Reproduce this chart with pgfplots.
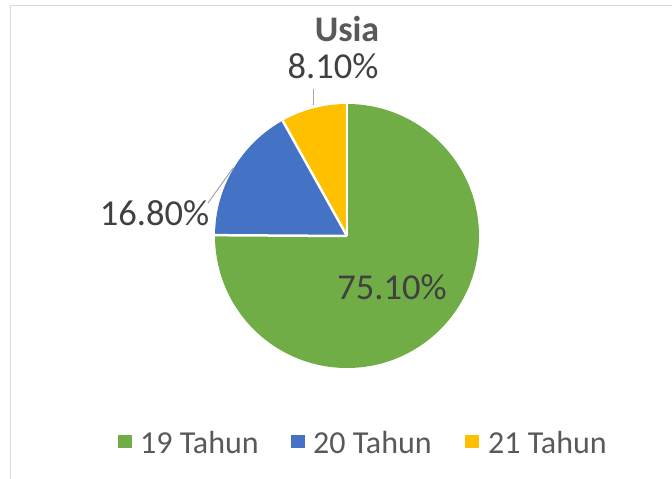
\documentclass[border=0pt]{standalone}
\usepackage{pgfplots}
\pgfplotsset{compat=1.18}
\usepackage{fontspec}
\setmainfont{Carlito}
\definecolor{cgreen}{HTML}{70AD47}
\definecolor{cblue}{HTML}{4472C4}
\definecolor{cyellow}{HTML}{FFC000}
\definecolor{ctext}{HTML}{595959}
\definecolor{clab}{HTML}{404040}
\definecolor{cframe}{HTML}{D9D9D9}
\definecolor{cleader}{HTML}{A6A6A6}
\begin{document}
\begin{tikzpicture}
\begin{axis}[scale only axis, width=672bp, height=479bp, at={(0,0)}, anchor=south west,
  xmin=0, xmax=672, ymin=0, ymax=479, hide axis, clip=false]
% frame
\draw[cframe, line width=1bp] (axis cs:10,0) -- (axis cs:10,473) -- (axis cs:672,473);
% pie: 19 Tahun 75.1, 20 Tahun 16.8, 21 Tahun 8.1 (clockwise from top)
\fill[cgreen] (axis cs:347,243) -- ([shift={(90:132bp)}]axis cs:347,243)
  arc[start angle=90, end angle={90-3.6*75.1}, radius=132bp] -- cycle;
\fill[cblue] (axis cs:347,243) -- ([shift={({90-3.6*75.1}:132bp)}]axis cs:347,243)
  arc[start angle={90-3.6*75.1}, end angle={90-3.6*(75.1+16.8)}, radius=132bp] -- cycle;
\fill[cyellow] (axis cs:347,243) -- ([shift={({90-3.6*(75.1+16.8)}:132bp)}]axis cs:347,243)
  arc[start angle={90-3.6*(75.1+16.8)}, end angle={90-3.6*(75.1+16.8+8.1)}, radius=132bp] -- cycle;
% white separators
\draw[white, line width=2.5bp] (axis cs:347,243) -- ([shift={(90:132bp)}]axis cs:347,243);
\draw[white, line width=2.5bp] (axis cs:347,243) -- ([shift={({90-3.6*75.1}:132bp)}]axis cs:347,243);
\draw[white, line width=2.5bp] (axis cs:347,243) -- ([shift={({90-3.6*(75.1+16.8)}:132bp)}]axis cs:347,243);
% leader lines
\draw[cleader, line width=1bp] (axis cs:208,276) -- (axis cs:233,311);
\draw[cleader, line width=1bp] (axis cs:313,390) -- (axis cs:313,374);
% labels
\node[anchor=base, inner sep=0, text=clab, font=\fontsize{36.5bp}{40bp}\selectfont] at (axis cs:392,179) {75.10\%};
\node[anchor=base, inner sep=0, text=clab, font=\fontsize{36.5bp}{40bp}\selectfont] at (axis cs:154.5,253) {16.80\%};
\node[anchor=base, inner sep=0, text=clab, font=\fontsize{36.5bp}{40bp}\selectfont] at (axis cs:333,400) {8.10\%};
% title
\node[anchor=base, inner sep=0, text=ctext, font=\fontsize{36bp}{40bp}\selectfont\bfseries] at (axis cs:347,437) {Usia};
% legend
\fill[cgreen] (axis cs:118,31) rectangle (axis cs:132,44);
\fill[cblue] (axis cs:291,31) rectangle (axis cs:305,44);
\fill[cyellow] (axis cs:465,31) rectangle (axis cs:479,44);
\node[anchor=base west, inner sep=0, text=ctext, font=\fontsize{32bp}{36bp}\selectfont] at (axis cs:140,26) {19 Tahun};
\node[anchor=base west, inner sep=0, text=ctext, font=\fontsize{32bp}{36bp}\selectfont] at (axis cs:313,26) {20 Tahun};
\node[anchor=base west, inner sep=0, text=ctext, font=\fontsize{32bp}{36bp}\selectfont] at (axis cs:488,26) {21 Tahun};
\end{axis}
\pgfresetboundingbox
\useasboundingbox (0,0) rectangle (672bp,479bp);
\end{tikzpicture}
\end{document}
